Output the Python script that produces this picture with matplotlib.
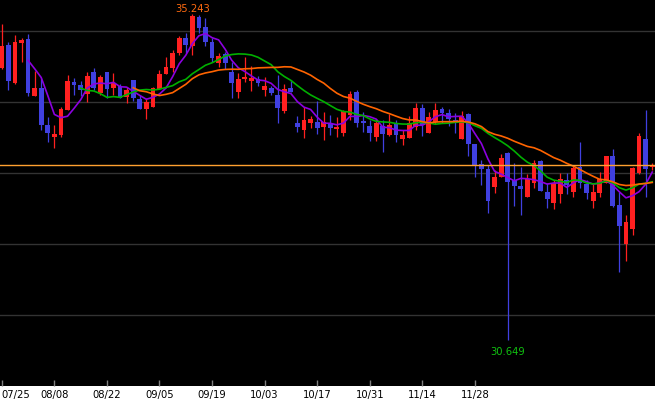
import numpy as np
import matplotlib.pyplot as plt
import pandas as pd

# daily candles (open, high, low, close)
opens = [34.479, 34.803, 34.272, 34.831, 34.888, 34.089, 34.198, 33.672, 33.507, 33.531,
         33.892, 34.282, 34.240, 34.117, 34.423, 34.131, 34.423, 34.193, 34.230, 34.071,
         34.310, 34.043, 33.902, 33.934, 34.179, 34.395, 34.475, 34.695, 34.906, 34.789,
         35.202, 35.061, 34.850, 34.554, 34.672, 34.423, 34.145, 34.324, 34.300, 34.324,
         34.169, 34.193, 34.095, 33.878, 34.193, 33.700, 33.610, 33.709, 33.716, 33.652,
         33.700, 33.624, 33.568, 33.817, 34.141, 33.733, 33.662, 33.512, 33.662, 33.535,
         33.690, 33.483, 33.497, 33.652, 33.912, 33.559, 33.723, 33.902, 33.841, 33.747,
         33.483, 33.831, 33.405, 33.127, 33.057, 32.807, 32.940, 33.278, 32.902, 32.817,
         32.666, 32.864, 33.169, 32.728, 32.582, 32.705, 32.902, 32.737, 33.089, 32.845,
         32.610, 32.723, 32.855, 33.240, 32.550, 32.000, 32.212, 33.005, 33.479, 33.081]
highs = [35.099, 34.841, 34.944, 34.898, 34.958, 34.437, 34.334, 33.793, 33.676, 33.934,
         34.381, 34.338, 34.300, 34.423, 34.475, 34.381, 34.425, 34.409, 34.254, 34.207,
         34.312, 34.099, 34.061, 34.216, 34.455, 34.630, 34.733, 34.930, 34.976, 35.243,
         35.226, 35.179, 34.902, 34.686, 34.709, 34.564, 34.405, 34.638, 34.507, 34.371,
         34.348, 34.226, 34.381, 34.254, 34.310, 33.803, 33.934, 33.803, 34.012, 33.855,
         33.817, 33.793, 33.888, 34.159, 34.169, 33.864, 33.747, 33.757, 33.747, 33.827,
         33.747, 33.606, 33.803, 33.982, 33.972, 33.855, 33.982, 33.926, 33.898, 33.850,
         33.878, 33.850, 33.409, 33.183, 33.113, 33.043, 33.268, 33.292, 33.145, 33.081,
         32.986, 33.183, 33.183, 32.855, 32.902, 32.996, 33.005, 33.099, 33.437, 32.902,
         32.845, 33.019, 33.242, 33.338, 32.737, 32.409, 33.089, 33.568, 33.888, 33.137]
lows = [34.470, 34.169, 34.254, 34.568, 34.089, 34.085, 33.606, 33.441, 33.357, 33.512,
        33.890, 34.099, 34.085, 34.005, 34.169, 34.099, 34.050, 34.099, 34.057, 33.986,
        34.019, 33.900, 33.757, 33.932, 34.177, 34.393, 34.427, 34.662, 34.686, 34.662,
        34.976, 34.789, 34.568, 34.489, 34.461, 34.061, 34.061, 34.286, 34.159, 34.226,
        34.089, 34.099, 33.709, 33.841, 34.139, 33.582, 33.497, 33.638, 33.543, 33.465,
        33.531, 33.512, 33.521, 33.747, 33.652, 33.582, 33.451, 33.455, 33.300, 33.521,
        33.433, 33.395, 33.495, 33.606, 33.526, 33.557, 33.690, 33.700, 33.662, 33.568,
        33.481, 33.240, 32.948, 32.831, 32.441, 32.714, 32.938, 30.649, 32.535, 32.409,
        32.664, 32.785, 32.749, 32.503, 32.489, 32.582, 32.705, 32.666, 32.785, 32.630,
        32.503, 32.658, 32.853, 32.526, 31.610, 31.761, 32.127, 32.986, 32.666, 33.043]
closes = [34.789, 34.300, 34.841, 34.874, 34.131, 34.198, 33.681, 33.568, 33.550, 33.902,
          34.296, 34.240, 34.169, 34.371, 34.198, 34.357, 34.190, 34.272, 34.061, 34.169,
          34.061, 33.902, 34.000, 34.202, 34.395, 34.493, 34.695, 34.906, 34.803, 35.216,
          35.047, 34.850, 34.616, 34.648, 34.554, 34.272, 34.320, 34.352, 34.334, 34.272,
          34.226, 34.131, 33.920, 34.179, 34.141, 33.652, 33.747, 33.757, 33.638, 33.719,
          33.638, 33.644, 33.874, 34.117, 33.709, 33.709, 33.559, 33.700, 33.545, 33.681,
          33.535, 33.535, 33.700, 33.916, 33.676, 33.785, 33.888, 33.850, 33.761, 33.700,
          33.803, 33.405, 33.113, 33.052, 32.610, 32.940, 33.207, 32.878, 32.817, 32.779,
          32.916, 33.137, 32.751, 32.638, 32.855, 32.912, 32.831, 33.075, 32.864, 32.714,
          32.733, 32.912, 33.240, 32.535, 32.254, 32.310, 33.067, 33.521, 33.057, 33.113]

date_labels = ["07/25", "08/08", "08/22", "09/05", "09/19",
               "10/03", "10/17", "10/31", "11/14", "11/28"]
ma_periods = [5, 13, 21]
ma_colors = ["#8c00e0", "#00b000", "#ff6400"]

font = dict(family="DejaVu Sans", stretch="condensed", fontsize=8)

df = pd.DataFrame({"o": opens, "h": highs, "l": lows, "c": closes})
x = np.arange(len(df))
up = df["c"] >= df["o"]
col = np.where(up, "#ff2020", "#4040e0")

fig = plt.figure(figsize=(6.55, 4.05), dpi=100)
fig.patch.set_facecolor("white")
ax = fig.add_axes([0, 19 / 405, 1, 386 / 405])
ax.set_facecolor("black")

ax.set_xlim(-0.274, 99.42)
ax.set_ylim(30.0, 35.437)

ax.set_yticks([31, 32, 33, 34, 35])
ax.grid(axis="y", color="#333333", linewidth=1.0)
ax.set_axisbelow(True)
ax.tick_params(axis="y", length=0, labelleft=False)

# candles
ax.vlines(x, df["l"], df["h"], colors=col, linewidth=0.9, zorder=2)
body_h = (df["c"] - df["o"]).abs().clip(lower=0.02)
ax.bar(x, body_h, bottom=df[["o", "c"]].min(axis=1), width=0.73,
       color=col, linewidth=0, zorder=3)

# moving averages
for p, c in zip(ma_periods, ma_colors):
    ma = df["c"].rolling(p).mean()
    ax.plot(x, ma, color=c, linewidth=1.2, zorder=4)

# last price line
ax.axhline(closes[-1], color="#ffa030", linewidth=1.0, zorder=5)

# high / low labels
hi = int(np.argmax(highs))
lo = int(np.argmin(lows))
ax.annotate(f"{highs[hi]:.3f}", (hi, highs[hi]), xytext=(0, 0), textcoords="offset points",
            ha="center", va="bottom", color="#ff6a10", **font)
ax.annotate(f"{lows[lo]:.3f}", (lo, lows[lo]), xytext=(0, -5), textcoords="offset points",
            ha="center", va="top", color="#10c010", **font)

# date axis
ax.set_xticks(np.arange(0, 80, 8))
ax.set_xticklabels(date_labels, color="black", **font)
ax.tick_params(axis="x", direction="in", length=4, width=1, color="#808080", pad=3)
ax.get_xticklabels()[0].set_horizontalalignment("left")
for s in ax.spines.values():
    s.set_visible(False)

fig.savefig("out.png", dpi=100, facecolor=fig.get_facecolor())
